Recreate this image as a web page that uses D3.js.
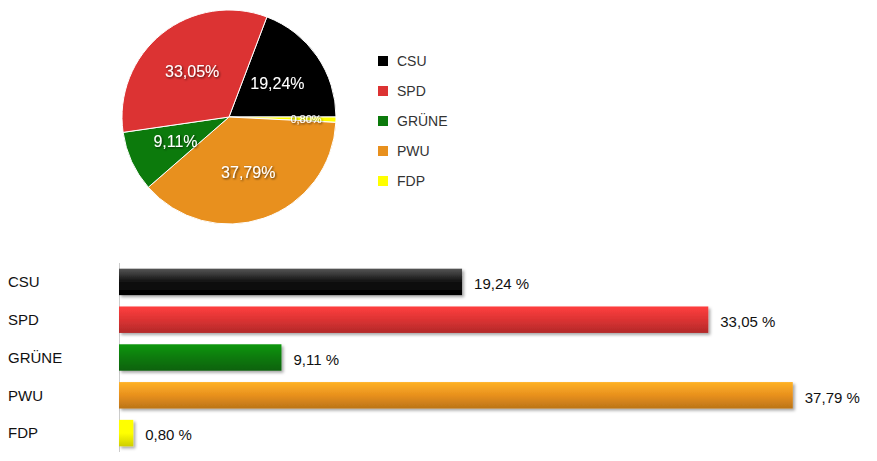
<!DOCTYPE html>
<html><head><meta charset="utf-8">
<script src="https://cdn.jsdelivr.net/npm/d3@7"></script>
<style>body{margin:0;background:#fff}text{font-family:Arial,"Liberation Sans",sans-serif}</style>
</head><body><svg id="c" width="877" height="461"></svg>
<script>
const categories=["CSU","SPD","GRÜNE","PWU","FDP"];
const values=[19.24,33.05,9.11,37.79,0.80];
const labels=["19,24","33,05","9,11","37,79","0,80"];
const colors=["#000000","#dc3333","#0c7a0c","#e8901e","#ffff00"];
const pieOrder=["CSU","FDP","PWU","GRÜNE","SPD"];

const svg=d3.select("#c");
const defs=svg.append("defs");
const f=defs.append("filter").attr("id","sh").attr("x","-20%").attr("y","-20%").attr("width","150%").attr("height","160%");
f.append("feDropShadow").attr("dx",2).attr("dy",2).attr("stdDeviation",1.5).attr("flood-color","#000").attr("flood-opacity",0.35);
const ft=defs.append("filter").attr("id","tsh");
ft.append("feDropShadow").attr("dx",1).attr("dy",1).attr("stdDeviation",1).attr("flood-color","#000").attr("flood-opacity",0.7);
colors.forEach((c,i)=>{
  const g=defs.append("linearGradient").attr("id","g"+i).attr("x1",0).attr("y1",0).attr("x2",0).attr("y2",1);
  const cc=d3.color(c);
  g.append("stop").attr("offset","0%").attr("stop-color",cc.brighter(0.6));
  g.append("stop").attr("offset","50%").attr("stop-color",c);
  g.append("stop").attr("offset","100%").attr("stop-color",cc.darker(0.6));
});
if(true){ // black gradient special
  const g=d3.select("#g0").selectAll("stop").remove();
  const gg=d3.select("#g0");
  gg.append("stop").attr("offset","0%").attr("stop-color","#555");
  gg.append("stop").attr("offset","50%").attr("stop-color","#111");
  gg.append("stop").attr("offset","100%").attr("stop-color","#000");
}

// Pie
const cx=229,cy=117,r=107;
const pdata=pieOrder.map(n=>{const i=categories.indexOf(n);return {name:n,v:values[i],c:colors[i],l:labels[i]};});
const start=90-pdata.reduce((s,d,i)=>i==0?d.v:s,0)*3.6;
const pie=d3.pie().value(d=>d.v).sort(null).startAngle(start*Math.PI/180).endAngle((start+360)*Math.PI/180);
const arcs=pie(pdata);
const arc=d3.arc().innerRadius(0).outerRadius(r);
const pg=svg.append("g").attr("transform",`translate(${cx},${cy})`);
pg.selectAll("path").data(arcs).join("path").attr("d",arc).attr("fill",d=>d.data.c).attr("stroke","#fff").attr("stroke-width",1);
const la=d3.arc().innerRadius(r*0.55).outerRadius(r*0.55);
pg.selectAll("text").data(arcs).join("text")
 .attr("transform",d=>{let [x,y]=la.centroid(d); if(d.data.v<2){const a=(d.startAngle+d.endAngle)/2;x=Math.sin(a)*r*0.72;y=-Math.cos(a)*r*0.72;} return `translate(${x},${y})`;})
 .attr("text-anchor","middle").attr("dy","0.35em").attr("fill","#fff").attr("filter","url(#tsh)")
 .attr("font-size",d=>d.data.v<2?11:16).text(d=>d.data.l+"%");

// Legend
const lg=svg.append("g");
categories.forEach((n,i)=>{
  lg.append("rect").attr("x",378).attr("y",56+i*30).attr("width",10).attr("height",10).attr("fill",colors[i]);
  lg.append("text").attr("x",397).attr("y",61+i*30).attr("dy","0.35em").attr("font-size",14).attr("fill","#333").text(n);
});

// Bars
const x=d3.scaleLinear().domain([0,40]).range([119,119+40*17.83]);
const y=d3.scaleBand().domain(categories).range([263,452]).paddingInner(0.3).paddingOuter(0.15);
svg.append("line").attr("x1",119.5).attr("x2",119.5).attr("y1",263).attr("y2",452).attr("stroke","#ccc");
const bg=svg.append("g");
categories.forEach((n,i)=>{
  bg.append("rect").attr("x",x(0)).attr("y",y(n)).attr("width",x(values[i])-x(0)).attr("height",y.bandwidth())
    .attr("fill",`url(#g${i})`).attr("filter","url(#sh)");
  bg.append("text").attr("x",x(values[i])+12).attr("y",y(n)+y.bandwidth()/2+2).attr("dy","0.35em").attr("font-size",15).attr("fill","#111").text(labels[i]+" %");
  bg.append("text").attr("x",8).attr("y",y(n)+y.bandwidth()/2).attr("dy","0.35em").attr("font-size",15).attr("fill","#111").text(n);
});
</script></body></html>
